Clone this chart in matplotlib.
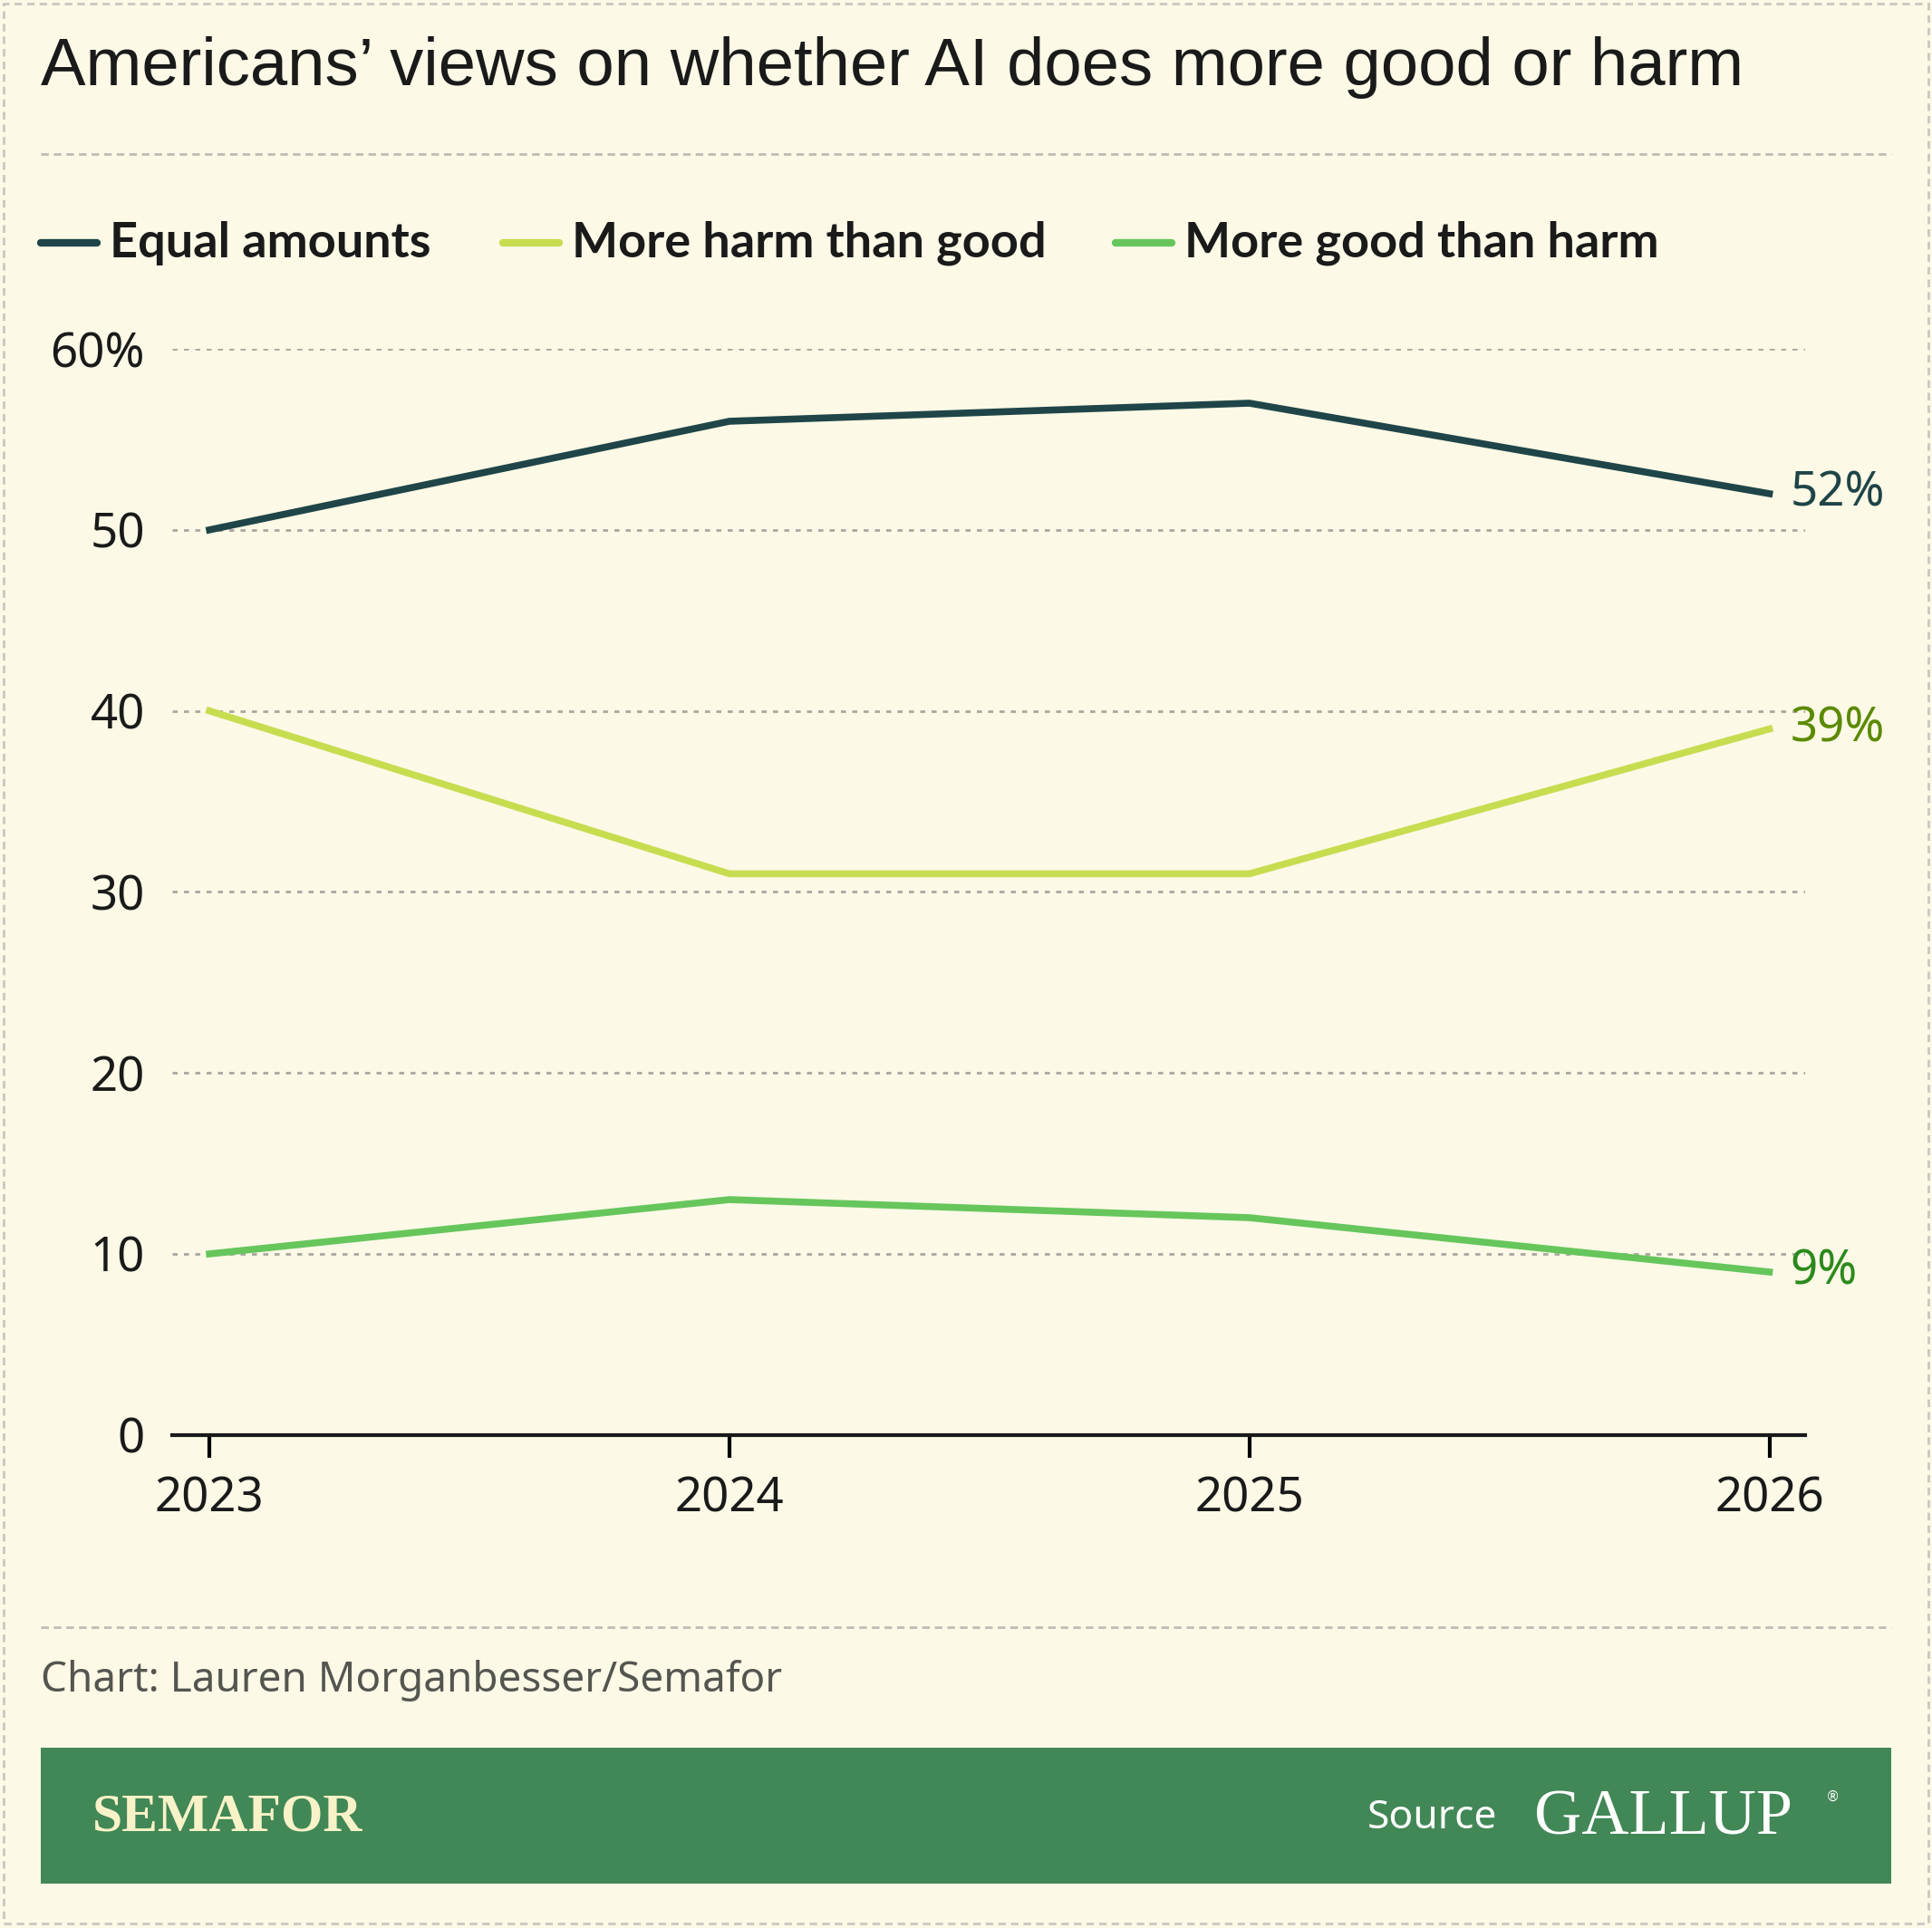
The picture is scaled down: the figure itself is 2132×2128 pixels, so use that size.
import matplotlib.pyplot as plt
from matplotlib.patches import Rectangle
from matplotlib.lines import Line2D

years = [2023, 2024, 2025, 2026]
equal_amounts = [50, 56, 57, 52]
more_harm = [40, 31, 31, 39]
more_good = [10, 13, 12, 9]
series_names = ["Equal amounts", "More harm than good", "More good than harm"]
series_colors = ["#1f4548", "#c8dc50", "#66c65c"]
end_label_colors = ["#1f4548", "#5b8a00", "#2b8a1c"]
yticks = [0, 10, 20, 30, 40, 50, 60]
ytick_labels = ["0", "10", "20", "30", "40", "50", "60%"]

BG = "#fcf9e6"
W, H = 1568, 1564  # layout units (reference display pixels)

fig = plt.figure(figsize=(21.32, 21.28), dpi=100)
fig.patch.set_facecolor(BG)


def fx(x):
    return x / W


def fy(y):
    return 1 - y / H


# outer dashed border
fig.add_artist(Rectangle((fx(3), fy(1560)), fx(1562), 1 - 7 / H, transform=fig.transFigure,
                         fill=False, ec="#c8c8c0", lw=2, ls=(0, (3, 2))))

fig.text(fx(33), fy(55), "Americans’ views on whether AI does more good or harm",
         fontsize=53.5, family="Liberation Sans", color="#1a1a1a", va="center")
for yy in (125, 1320):
    fig.add_artist(Line2D([fx(33), fx(1535)], [fy(yy), fy(yy)], transform=fig.transFigure,
                          color="#bdbdb5", lw=2, ls=(0, (3, 2))))

# legend
lx = [33, 408, 905]
for x0, name, c in zip(lx, series_names, series_colors):
    fig.add_artist(Line2D([fx(x0), fx(x0 + 46)], [fy(197), fy(197)], transform=fig.transFigure,
                          color=c, lw=6, solid_capstyle="round"))
    fig.text(fx(x0 + 56), fy(197), name, fontsize=39, weight="bold", family="Lato",
             color="#1a1a1a", va="center")

ax = fig.add_axes([fx(140), fy(1164), fx(1465 - 140), (1164 - 283) / H])
ax.set_facecolor(BG)
for vals, c in zip([equal_amounts, more_harm, more_good], series_colors):
    ax.plot(years, vals, color=c, lw=5.5)
for vals, c in zip([equal_amounts, more_harm, more_good], end_label_colors):
    ax.text(years[-1] + 0.04, vals[-1], f"{vals[-1]}%", color=c, fontsize=38,
            family="Noto Sans", va="center", ha="left")

ax.set_xlim(2023 - 30 / 422, 2026 + 29 / 422)
ax.set_ylim(0, 60)
ax.set_yticks(yticks)
ax.set_yticklabels(ytick_labels)
ax.set_xticks(years)
ax.set_xticklabels([str(y) for y in years])
for t in yticks[1:]:
    ax.axhline(t, color="#a8a8a0", lw=2, ls=(0, (2, 2.5)), zorder=0)
for s in ("top", "right", "left"):
    ax.spines[s].set_visible(False)
ax.spines["bottom"].set_linewidth(3)
ax.spines["bottom"].set_color("#1a1a1a")
ax.tick_params(axis="y", length=0, pad=22, labelsize=38, labelcolor="#1a1a1a")
ax.tick_params(axis="x", length=18, width=3, pad=14, labelsize=38, labelcolor="#1a1a1a")
for lab in ax.get_xticklabels() + ax.get_yticklabels():
    lab.set_family("Noto Sans")

fig.text(fx(33), fy(1363), "Chart: Lauren Morganbesser/Semafor", fontsize=33,
         family="Noto Sans", color="#555550", va="center")

# footer band
fig.add_artist(Rectangle((fx(33), fy(1528)), fx(1502), 110 / H, transform=fig.transFigure,
                         color="#428756", lw=0))
fig.text(fx(75), fy(1475), "SEMAFOR", fontsize=43, weight="bold", family="Liberation Serif",
         color="#f8f2c8", va="center")
fig.text(fx(1215), fy(1475), "Source", fontsize=32, family="Noto Sans",
         color="#ffffff", va="center", ha="right")
fig.text(fx(1245), fy(1475), "GALLUP", fontsize=52, family="Liberation Serif",
         color="#ffffff", va="center")
fig.text(fx(1482), fy(1458), "®", fontsize=11, family="DejaVu Sans", color="#ffffff", va="center")

fig.savefig("out.png", dpi=100, facecolor=BG)
